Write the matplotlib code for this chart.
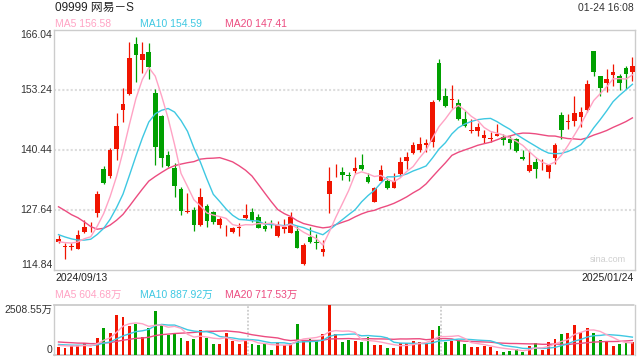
import matplotlib
matplotlib.use('Agg')
import matplotlib.pyplot as plt
import matplotlib.transforms as mtrans
import pandas as pd

plt.rcParams['font.family'] = ['Liberation Sans', 'Noto Sans CJK SC', 'DejaVu Sans']

# daily k-line, 2024/09/13 - 2025/01/24 (90 trading days)
opens = [120.74, 119.82, 119.82, 119.39, 123.02, 123.52, 126.93, 136.32, 134.89, 140.72,
         148.97, 152.39, 163.05, 159.64, 161.28, 152.53, 147.69, 139.37, 136.53, 132.12,
         127.28, 127.64, 124.44, 128.50, 127.29, 124.51, 122.45, 123.02, 123.87, 125.87,
         127.15, 126.08, 124.30, 124.70, 122.10, 123.66, 122.81, 123.16, 116.05, 121.95,
         120.72, 118.75, 131.05, 135.70, 135.74, 135.20, 135.96, 137.24, 134.75, 129.41,
         133.90, 133.90, 132.40, 135.25, 138.09, 139.72, 140.44, 141.50, 142.21, 159.07,
         151.96, 151.10, 150.53, 147.05, 144.56, 144.57, 143.07, 142.79, 143.50, 143.14,
         142.79, 142.79, 139.00, 136.03, 137.80, 136.96, 135.82, 138.80, 147.90, 146.49,
         146.70, 147.55, 148.98, 161.56, 156.23, 154.81, 156.52, 156.23, 157.86, 157.15]
highs = [122.31, 120.53, 120.53, 123.37, 125.51, 125.15, 131.69, 137.03, 140.80, 148.26,
         153.60, 163.55, 164.48, 163.41, 163.20, 153.40, 147.91, 140.30, 137.60, 132.62,
         131.20, 128.35, 132.27, 128.90, 127.50, 126.08, 124.44, 123.95, 124.80, 128.92,
         128.14, 126.79, 125.37, 125.51, 125.37, 125.65, 127.29, 124.23, 120.53, 124.09,
         122.52, 121.24, 136.88, 137.45, 136.88, 135.81, 138.87, 139.58, 135.60, 132.61,
         137.24, 134.40, 135.46, 138.87, 140.08, 142.21, 143.14, 142.71, 151.10, 159.78,
         153.60, 154.30, 151.25, 148.76, 146.98, 146.27, 144.71, 144.35, 145.99, 143.78,
         143.43, 142.93, 140.44, 140.23, 138.67, 138.52, 137.24, 141.87, 148.62, 148.12,
         151.96, 149.69, 155.38, 161.56, 156.23, 157.65, 158.79, 156.66, 158.43, 160.21]
lows = [120.53, 117.12, 119.10, 119.39, 122.66, 123.02, 126.08, 133.19, 134.40, 138.31,
        146.48, 152.17, 155.02, 156.80, 155.52, 137.24, 136.88, 136.88, 130.48, 126.57,
        126.93, 123.23, 124.22, 124.10, 124.66, 123.73, 122.17, 122.81, 122.17, 125.65,
        125.15, 123.73, 123.23, 123.73, 121.95, 122.66, 122.66, 119.46, 115.91, 120.68,
        119.25, 117.90, 127.07, 134.75, 134.04, 133.90, 135.46, 136.17, 133.47, 129.27,
        133.83, 132.05, 132.40, 134.90, 136.31, 139.58, 140.08, 140.08, 141.00, 150.96,
        149.54, 149.33, 146.84, 145.27, 144.13, 143.43, 142.01, 142.22, 143.43, 141.44,
        140.66, 140.09, 138.31, 135.75, 134.54, 136.17, 134.54, 137.46, 142.72, 144.85,
        145.56, 145.28, 148.62, 156.23, 151.96, 152.89, 154.10, 153.24, 153.38, 155.24]
closes = [121.45, 119.85, 119.85, 122.31, 124.09, 123.55, 131.05, 133.33, 140.44, 145.56,
          150.25, 160.00, 160.71, 160.92, 158.22, 141.15, 138.66, 137.03, 132.83, 127.50,
          127.31, 124.44, 130.49, 125.37, 125.16, 125.72, 122.48, 123.87, 123.90, 126.58,
          125.51, 123.87, 123.59, 124.62, 124.44, 124.09, 126.22, 119.61, 120.18, 120.89,
          120.66, 119.32, 133.83, 135.74, 135.10, 135.00, 136.67, 136.38, 133.61, 132.26,
          136.17, 132.40, 133.82, 137.88, 139.00, 141.50, 141.72, 142.00, 150.75, 151.10,
          149.82, 151.14, 147.05, 145.63, 144.60, 145.28, 143.64, 142.82, 143.85, 142.58,
          142.01, 140.23, 138.45, 137.24, 136.39, 136.99, 137.24, 141.44, 144.71, 146.52,
          148.27, 148.62, 154.45, 157.15, 153.74, 155.59, 157.08, 154.81, 156.59, 158.36]
# volume, 万股
volumes = [418, 368, 468, 502, 619, 368, 853, 1355, 1104, 2007,
           1923, 1455, 1555, 903, 1338, 2207, 1505, 1020, 1104, 853,
           719, 803, 1254, 870, 569, 569, 1104, 719, 535, 719,
           552, 502, 585, 251, 636, 502, 585, 1555, 753, 803,
           702, 1054, 2508, 1054, 652, 753, 702, 652, 886, 502,
           502, 351, 351, 619, 585, 686, 652, 585, 1254, 1455,
           669, 719, 753, 552, 418, 418, 468, 418, 217, 167,
           217, 301, 167, 452, 619, 251, 652, 803, 1070, 1120,
           1522, 1154, 1371, 1120, 753, 702, 452, 552, 669, 669]
# 19 days before the window, only needed for the moving averages
prior_closes = [136.0, 137.2, 135.4, 142.0, 143.5, 142.3, 129.5, 126.6, 125.0, 125.2,
                124.8, 123.9, 125.0, 124.1, 121.6, 120.9, 120.3, 121.2, 120.6]
prior_volumes = [820, 760, 900, 700, 850, 780, 690, 830, 760, 720,
                 560, 610, 540, 590, 560, 480, 520, 510, 490]

# values shown in the legends (as quoted on the page)
ma_names = ['MA5', 'MA10', 'MA20']
ma_price_last = [156.58, 154.59, 147.41]
ma_vol_last = [604.68, 887.92, 717.53]

price_ticks = [166.04, 153.24, 140.44, 127.64, 114.84]
vol_top = 2508.55
first_date = '2024/09/13'
last_date = '2025/01/24'

RED = '#f01400'
GREEN = '#00a000'
C_MA5 = '#ffa3c4'
C_MA10 = '#3ec8e2'
C_MA20 = '#ec4c80'
GRID = '#dddddd'
FRAME = '#cccccc'
ma_colors = [C_MA5, C_MA10, C_MA20]

n = len(closes)
xs = list(range(n))
cs = pd.Series(prior_closes + closes)
vs = pd.Series(prior_volumes + volumes)
ma_c = {k: cs.rolling(k).mean().iloc[19:].values for k in (5, 10, 20)}
ma_v = {k: vs.rolling(k).mean().iloc[19:].values for k in (5, 10, 20)}
colors = [RED if c >= o else GREEN for o, c in zip(opens, closes)]

W, H = 640, 360
fig = plt.figure(figsize=(6.4, 3.6), dpi=100)
ax = fig.add_axes([54 / W, 1 - 270 / H, 581 / W, 240 / H])
axv = fig.add_axes([54 / W, 1 - 355 / H, 581 / W, 50 / H])

# ---- price panel
for i in xs:
    ax.vlines(i, lows[i], highs[i], color=colors[i], lw=0.9, zorder=3)
    body = max(abs(closes[i] - opens[i]), 0.14)
    ax.bar(i, body, bottom=min(opens[i], closes[i]), width=0.72, color=colors[i], zorder=4)
ax.plot(xs, ma_c[20], color=C_MA20, lw=1.0, zorder=5)
ax.plot(xs, ma_c[10], color=C_MA10, lw=1.0, zorder=5)
ax.plot(xs, ma_c[5], color=C_MA5, lw=1.0, zorder=5)

ax.set_xlim(-0.7, n - 0.6)
ax.set_ylim(price_ticks[-1], price_ticks[0])
for v in price_ticks[1:-1]:
    ax.axhline(v, color=GRID, lw=1.5, ls=(0, (1, 1)), zorder=1)
ax.set_xticks([])
ax.set_yticks([])
for s in ax.spines.values():
    s.set_color(FRAME)
    s.set_linewidth(1)

tr = mtrans.blended_transform_factory(fig.transFigure, ax.transData)
for k, v in enumerate(price_ticks):
    va = 'top' if k == 0 else ('bottom' if k == len(price_ticks) - 1 else 'center')
    ax.text(52 / W, v, '%.2f' % v, transform=tr, ha='right', va=va, fontsize=7.5, color='#333333')
ax.text(0.985, 0.045, 'sina.com', transform=ax.transAxes, ha='right', va='center', fontsize=6.5, color='#cfcfcf')

# ---- volume panel
axv.bar(xs, volumes, width=0.45, color=colors, zorder=3)
axv.plot(xs, ma_v[20], color=C_MA20, lw=1.0, zorder=4)
axv.plot(xs, ma_v[10], color=C_MA10, lw=1.0, zorder=4)
axv.plot(xs, ma_v[5], color=C_MA5, lw=1.0, zorder=4)
axv.set_xlim(-0.7, n - 0.6)
axv.set_ylim(0, vol_top)
axv.set_xticks([])
axv.set_yticks([])
for side in ('top', 'bottom'):
    axv.spines[side].set_color(FRAME)
    axv.spines[side].set_linestyle((0, (1, 1)))
    axv.spines[side].set_linewidth(1.3)
for side in ('left', 'right'):
    axv.spines[side].set_color(FRAME)
    axv.spines[side].set_linewidth(1)
for f in (1 / 3, 2 / 3):
    axv.axvline(-0.7 + f * (n + 0.1), color=FRAME, lw=1.3, ls=(0, (1, 1)), zorder=1)
trv = mtrans.blended_transform_factory(fig.transFigure, axv.transData)
axv.text(52 / W, vol_top, '%.2f万' % vol_top, transform=trv, ha='right', va='top', fontsize=7.5, color='#333333')
axv.text(52 / W, 0, '0', transform=trv, ha='right', va='bottom', fontsize=7.5, color='#333333')

# ---- header / labels
fig.text(55 / W, 1 - 8 / H, '09999 网易－S', ha='left', va='center', fontsize=8.5, color='#222222')
fig.text(634 / W, 1 - 8 / H, '01-24 16:08', ha='right', va='center', fontsize=7.5, color='#333333')
for x0, name, val, col in zip((55, 140, 225), ma_names, ma_price_last, ma_colors):
    fig.text(x0 / W, 1 - 24 / H, '%s %.2f' % (name, val), ha='left', va='center', fontsize=7.5, color=col)
for x0, name, val, col in zip((55, 140, 225), ma_names, ma_vol_last, ma_colors):
    fig.text(x0 / W, 1 - 295 / H, '%s %.2f万' % (name, val), ha='left', va='center', fontsize=7.5, color=col)
fig.text(55 / W, 1 - 278 / H, first_date, ha='left', va='center', fontsize=7.5, color='#222222')
fig.text(634 / W, 1 - 278 / H, last_date, ha='right', va='center', fontsize=7.5, color='#222222')

fig.savefig('out.png', dpi=100)
